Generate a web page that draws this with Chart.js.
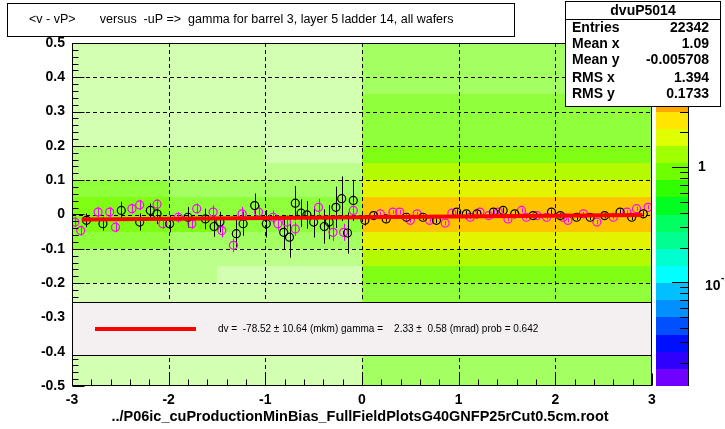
<!DOCTYPE html>
<html>
<head>
<meta charset="utf-8">
<script src="https://cdn.jsdelivr.net/npm/chart.js@4.4.1/dist/chart.umd.min.js"></script>
<style>
  body { margin: 0; background: #fff; }
  canvas { display: block; }
</style>
</head>
<body>
<canvas id="c" width="725" height="429"></canvas>
<script>
// profile points (black and magenta)
var blackX   = [-2.85,-2.68,-2.49,-2.30,-2.19,-2.12,-1.99,-1.80,-1.62,-1.53,-1.47,-1.30,-1.23,-1.11,-0.99,-0.81,-0.75,-0.69,-0.63,-0.57,-0.50,-0.39,-0.34,-0.27,-0.21,-0.15,-0.09,
                0.03,0.12,0.25,0.46,0.63,0.77,0.98,1.08,1.19,1.36,1.46,1.58,1.77,1.96,2.05,2.22,2.36,2.51,2.67,2.79,2.91];
var blackY   = [-0.017,-0.027,0.012,-0.022,0.012,0.002,-0.027,-0.008,-0.013,-0.035,-0.022,-0.056,-0.027,0.026,-0.027,-0.052,-0.066,0.033,0.004,-0.001,-0.022,-0.035,-0.022,0.021,0.046,-0.054,0.041,
                -0.017,-0.003,-0.013,-0.008,-0.008,-0.017,0.007,0.002,0.002,0.007,0.012,0.002,-0.003,0.007,-0.003,-0.008,-0.008,-0.003,0.007,-0.008,0.002];
var blackErr = [0.02,0.02,0.025,0.025,0.02,0.03,0.025,0.03,0.03,0.03,0.03,0.04,0.035,0.035,0.04,0.05,0.06,0.05,0.04,0.04,0.045,0.05,0.05,0.06,0.065,0.06,0.06,
                0.015,0.008,0.008,0.008,0.008,0.008,0.008,0.008,0.008,0.008,0.008,0.008,0.008,0.008,0.008,0.008,0.008,0.008,0.008,0.008,0.008];

var magX   = [-2.97,-2.91,-2.73,-2.61,-2.55,-2.38,-2.30,-2.12,-2.06,-1.90,-1.76,-1.71,-1.54,-1.45,-1.33,-1.24,-1.07,-0.92,-0.87,-0.78,-0.69,-0.45,-0.30,-0.19,-0.09,
              0.19,0.32,0.39,0.50,0.57,0.70,0.86,0.93,1.12,1.22,1.31,1.41,1.51,1.65,1.70,1.81,1.91,2.08,2.13,2.29,2.43,2.60,2.74,2.84,2.96];
var magY   = [-0.022,-0.047,0.007,0.007,-0.037,0.017,0.028,0.030,-0.027,-0.008,-0.027,0.017,0.007,-0.047,-0.090,0.002,0.007,-0.008,-0.027,-0.022,-0.042,0.021,-0.052,-0.052,0.012,
              0.002,0.007,0.007,-0.017,0.002,-0.017,-0.025,0.004,-0.008,0.007,-0.003,0.007,-0.013,0.012,-0.008,-0.003,-0.008,-0.008,-0.017,0.002,-0.022,-0.008,0.007,0.017,0.021];
var magErr = [0.015,0.015,0.015,0.015,0.015,0.015,0.015,0.015,0.015,0.015,0.015,0.015,0.02,0.02,0.02,0.02,0.02,0.02,0.02,0.02,0.02,0.025,0.025,0.025,0.025,
              0.006,0.006,0.006,0.006,0.006,0.006,0.006,0.006,0.006,0.006,0.006,0.006,0.006,0.006,0.006,0.006,0.006,0.006,0.006,0.006,0.006,0.006,0.006,0.006,0.006];

// straight line fit: dv (cm) + gamma (rad) * u
var fitP0 = -0.007852;
var fitP1 = 0.00233;
var fitRange = [-2.9, 2.9];

// 2D histogram, coarse density level per cell (0 empty .. 9 densest)
var histXEdges = [-3,-2.5,-2,-1.5,-1,-0.5,0,0.5,1,1.5,2,2.5,3];
var histYEdges = [0.5,0.45,0.4,0.35,0.3,0.25,0.2,0.15,0.1,0.05,0,-0.05,-0.1,-0.15,-0.2,-0.25,-0.3,-0.35,-0.4,-0.45,-0.5];
var histLevels = [
  [2,2,2,2,2,2, 4,4,4,4,4,4],
  [2,2,2,2,2,2, 4,4,4,4,4,4],
  [2,2,2,2,2,2, 4,4,4,4,4,4],
  [2,2,2,2,2,2, 5,5,5,5,5,5],
  [2,2,2,2,2,2, 5,5,5,5,5,5],
  [2,2,2,2,2,2, 5,5,5,5,5,5],
  [3,3,3,3,2,2, 6,6,6,6,6,6],
  [3,3,3,3,3,3, 7,7,7,7,7,7],
  [5,5,4,4,4,4, 8,8,8,8,8,8],
  [6,6,5,5,5,5, 9,9,9,9,9,9],
  [6,6,6,5,5,5, 9,9,9,9,9,9],
  [5,5,4,4,4,4, 8,8,8,8,8,8],
  [3,3,3,3,3,3, 7,7,7,7,7,7],
  [3,3,3,2,2,2, 6,6,6,6,6,6],
  [2,2,2,2,2,2, 5,5,5,5,5,5],
  [2,2,2,2,2,2, 5,5,5,5,5,5],
  [2,2,2,2,2,2, 5,5,5,5,5,5],
  [2,2,2,2,2,2, 4,4,4,4,4,4],
  [2,2,2,2,2,2, 4,4,4,4,4,4],
  [2,2,2,2,2,2, 4,4,4,4,4,4]
];
var levelColors = ['#ffffff','#e0ffc8','#d2ffb0','#bcff8a','#a4ff62','#90ff3c','#80ff14','#b4fa00','#e2f400','#ffc400'];

// colour palette (20 bands, bottom to top) and its log axis
var paletteColors = ['#7000ff','#3000ff','#0010ff','#0050ff','#0090ff','#00c0ff','#00ffff','#00ffd0','#00ff90','#00ff60',
                     '#00ff20','#30ff00','#70ff00','#a0ff00','#e0ff00','#ffe600','#ffa500','#ff6000','#ff2000','#ff0000'];
var paletteMin = 0.0125, paletteMax = 12;
var paletteMajor = [0.1, 1];
var paletteMinor = [0.02,0.03,0.04,0.05,0.06,0.07,0.08,0.09,0.2,0.3,0.4,0.5,0.6,0.7,0.8,0.9,2,3,4,5,6,7,8,9];

var statsName = 'dvuP5014';
var statsLabels = ['Entries','Mean x','Mean y','RMS x','RMS y'];
var statsValues = ['22342','1.09','-0.005708','1.394','0.1733'];

var titleText = '<v - vP>       versus  -uP =>  gamma for barrel 3, layer 5 ladder 14, all wafers';
var fitText = 'dv =  -78.52 \u00b1 10.64 (mkm) gamma =    2.33 \u00b1  0.58 (mrad) prob = 0.642';
var fileText = '../P06ic_cuProductionMinBias_FullFieldPlotsG40GNFP25rCut0.5cm.root';

var FONT = '"Liberation Sans", Arial, Helvetica, sans-serif';

function pts(xs, ys) {
  return xs.map(function (v, i) { return { x: v, y: ys[i] }; });
}

var heatmap = {
  id: 'heatmap',
  beforeDatasetsDraw: function (chart) {
    var ctx = chart.ctx, ca = chart.chartArea, xs = chart.scales.x, ys = chart.scales.y;
    ctx.save();
    ctx.beginPath();
    ctx.rect(ca.left, ca.top, ca.right - ca.left, ca.bottom - ca.top);
    ctx.clip();
    for (var r = 0; r < histLevels.length; r++) {
      var y0 = Math.round(ys.getPixelForValue(histYEdges[r]));
      var y1 = Math.round(ys.getPixelForValue(histYEdges[r + 1]));
      for (var c = 0; c < histLevels[r].length; c++) {
        var lv = histLevels[r][c];
        if (!lv) continue;
        var x0 = Math.round(xs.getPixelForValue(histXEdges[c]));
        var x1 = Math.round(xs.getPixelForValue(histXEdges[c + 1]));
        ctx.fillStyle = levelColors[lv];
        ctx.fillRect(x0, y0, x1 - x0, y1 - y0);
      }
    }
    // dashed grid on top of the histogram
    ctx.strokeStyle = '#000';
    ctx.lineWidth = 1;
    ctx.setLineDash([4, 3]);
    xs.ticks.forEach(function (t) {
      var px = Math.round(xs.getPixelForValue(t.value)) + 0.5;
      ctx.beginPath(); ctx.moveTo(px, ca.top); ctx.lineTo(px, ca.bottom); ctx.stroke();
    });
    ys.ticks.forEach(function (t) {
      var py = Math.round(ys.getPixelForValue(t.value)) + 0.5;
      ctx.beginPath(); ctx.moveTo(ca.left, py); ctx.lineTo(ca.right, py); ctx.stroke();
    });
    ctx.setLineDash([]);

    // error bars of the profiles
    chart.data.datasets.forEach(function (ds, i) {
      if (!ds.errors) return;
      var meta = chart.getDatasetMeta(i);
      ctx.strokeStyle = ds.borderColor;
      ctx.lineWidth = 1;
      meta.data.forEach(function (el, j) {
        var v = ds.data[j].y, e = ds.errors[j];
        var px = Math.round(el.x) + 0.5;
        ctx.beginPath();
        ctx.moveTo(px, ys.getPixelForValue(v + e));
        ctx.lineTo(px, ys.getPixelForValue(v - e));
        ctx.stroke();
      });
    });
    ctx.restore();
  }
};

var overlay = {
  id: 'overlay',
  afterDraw: function (chart) {
    var ctx = chart.ctx, ca = chart.chartArea, xs = chart.scales.x, ys = chart.scales.y;
    ctx.save();
    ctx.strokeStyle = '#000';
    ctx.lineWidth = 1;
    var L = Math.round(ca.left) + 0.5, R = Math.round(ca.right) - 0.5;
    var T = Math.round(ca.top) + 0.5, B = Math.round(ca.bottom) - 0.5;

    // axis ticks, pointing into the frame
    var v, p;
    for (v = -0.5; v <= 0.5001; v += 0.02) {
      p = Math.round(ys.getPixelForValue(v)) + 0.5;
      var major = Math.abs(v * 10 - Math.round(v * 10)) < 1e-6;
      ctx.beginPath(); ctx.moveTo(L, p); ctx.lineTo(L + (major ? 12 : 6), p); ctx.stroke();
    }
    for (v = -3; v <= 3.0001; v += 0.2) {
      p = Math.round(xs.getPixelForValue(v)) + 0.5;
      var majorX = Math.abs(v - Math.round(v)) < 1e-6;
      ctx.beginPath(); ctx.moveTo(p, B); ctx.lineTo(p, B - (majorX ? 12 : 6)); ctx.stroke();
    }

    // fit legend box
    var lgTop = 302, lgBot = 355;
    ctx.fillStyle = '#f4f0f2';
    ctx.fillRect(L, lgTop, R - L, lgBot - lgTop);
    ctx.strokeRect(L, lgTop + 0.5, R - L, lgBot - lgTop);
    ctx.strokeStyle = '#ff0000';
    ctx.lineWidth = 4;
    ctx.beginPath(); ctx.moveTo(95, 329); ctx.lineTo(196, 329); ctx.stroke();
    ctx.fillStyle = '#000';
    ctx.font = '10px ' + FONT;
    ctx.textBaseline = 'middle';
    ctx.textAlign = 'left';
    ctx.fillText(fitText, 218, 329);

    // frame
    ctx.strokeStyle = '#000';
    ctx.lineWidth = 1;
    ctx.strokeRect(L, T, R - L, B - T);

    // colour palette
    var pl = Math.round(ca.right) + 4, pr = pl + 32;
    var pTop = ca.top, pBot = ca.bottom, bandH = (pBot - pTop) / paletteColors.length;
    paletteColors.forEach(function (col, i) {
      ctx.fillStyle = col;
      var y0 = Math.round(pBot - (i + 1) * bandH), y1 = Math.round(pBot - i * bandH);
      ctx.fillRect(pl, y0, pr - pl, y1 - y0);
    });
    ctx.beginPath(); ctx.moveTo(pr + 0.5, pTop); ctx.lineTo(pr + 0.5, pBot); ctx.stroke();
    var lmin = Math.log10(paletteMin), lmax = Math.log10(paletteMax);
    function palY(val) { return Math.round(pBot - (Math.log10(val) - lmin) / (lmax - lmin) * (pBot - pTop)) + 0.5; }
    paletteMinor.forEach(function (val) {
      var y = palY(val);
      ctx.beginPath(); ctx.moveTo(pr, y); ctx.lineTo(pr - 8, y); ctx.stroke();
    });
    paletteMajor.forEach(function (val) {
      var y = palY(val);
      ctx.beginPath(); ctx.moveTo(pr, y); ctx.lineTo(pr - 16, y); ctx.stroke();
    });
    ctx.fillStyle = '#000';
    ctx.font = 'bold 14px ' + FONT;
    ctx.textAlign = 'left';
    ctx.fillText('1', pr + 10, palY(1));
    ctx.fillText('10', pr + 17, palY(0.1) + 4);
    ctx.font = 'bold 10px ' + FONT;
    ctx.fillText('-1', pr + 33, palY(0.1) - 4);

    // stats box
    var sx0 = 565.5, sx1 = 720.5, sy0 = 1.5, sy1 = 106.5;
    ctx.fillStyle = '#fff';
    ctx.fillRect(sx0, sy0, sx1 - sx0, sy1 - sy0);
    ctx.strokeRect(sx0, sy0, sx1 - sx0, sy1 - sy0);
    ctx.beginPath(); ctx.moveTo(sx0, 19.5); ctx.lineTo(sx1, 19.5); ctx.stroke();
    ctx.fillStyle = '#000';
    ctx.font = 'bold 14px ' + FONT;
    ctx.textAlign = 'center';
    ctx.fillText(statsName, (sx0 + sx1) / 2, 11);
    var rowY = [28, 44, 60, 78, 94];
    statsLabels.forEach(function (lab, i) {
      ctx.textAlign = 'left';
      ctx.fillText(lab, 572, rowY[i]);
      ctx.textAlign = 'right';
      ctx.fillText(statsValues[i], 709, rowY[i]);
    });

    // title box
    ctx.fillStyle = '#fff';
    ctx.fillRect(7.5, 3.5, 507, 33);
    ctx.strokeRect(7.5, 3.5, 507, 33);
    ctx.fillStyle = '#000';
    ctx.font = '12.5px ' + FONT;
    ctx.textAlign = 'left';
    ctx.fillText(titleText, 29, 20);

    // file name under the x axis
    ctx.font = 'bold 14.5px ' + FONT;
    ctx.textAlign = 'center';
    ctx.fillText(fileText, 360, 417);
    ctx.restore();
  }
};

new Chart(document.getElementById('c'), {
  type: 'scatter',
  data: {
    datasets: [
      {
        type: 'line',
        label: 'fit',
        data: pts(fitRange, fitRange.map(function (u) { return fitP0 + fitP1 * u; })),
        borderColor: '#ff0000',
        borderWidth: 4,
        pointRadius: 0,
        fill: false
      },
      {
        label: 'profile',
        data: pts(blackX, blackY),
        errors: blackErr,
        borderColor: '#000000',
        backgroundColor: 'rgba(255,255,255,0)',
        pointRadius: 4,
        pointBorderWidth: 1.2
      },
      {
        label: 'profile 2',
        data: pts(magX, magY),
        errors: magErr,
        borderColor: '#ff00ff',
        backgroundColor: 'rgba(255,255,255,0)',
        pointRadius: 4,
        pointBorderWidth: 1.2
      }
    ]
  },
  options: {
    responsive: false,
    animation: false,
    devicePixelRatio: 1,
    layout: { padding: { left: 0, right: 73, top: 43, bottom: 0 } },
    plugins: { legend: { display: false }, tooltip: { enabled: false } },
    scales: {
      x: {
        type: 'linear', min: -3, max: 3,
        grid: { display: false, drawTicks: false },
        border: { display: false },
        afterFit: function (s) { s.height = 43; },
        ticks: {
          stepSize: 1, padding: 6, color: '#000',
          font: { family: FONT, size: 14, weight: 'bold' },
          callback: function (v) { return String(v); }
        }
      },
      y: {
        type: 'linear', min: -0.5, max: 0.5,
        grid: { display: false, drawTicks: false },
        border: { display: false },
        afterFit: function (s) { s.width = 72; },
        ticks: {
          stepSize: 0.1, padding: 7, color: '#000',
          font: { family: FONT, size: 14, weight: 'bold' },
          callback: function (v) { return Math.abs(v) < 1e-9 ? '0' : String(Math.round(v * 10) / 10); }
        }
      }
    }
  },
  plugins: [heatmap, overlay]
});
</script>
</body>
</html>
